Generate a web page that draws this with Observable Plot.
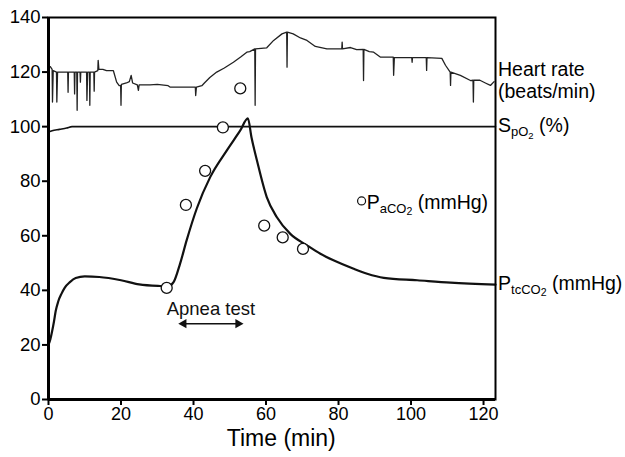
<!DOCTYPE html>
<html><head><meta charset="utf-8">
<script src="https://cdn.jsdelivr.net/npm/d3@7"></script>
<script src="https://cdn.jsdelivr.net/npm/@observablehq/plot@0.6"></script>
<style>body{margin:0;background:#fff;} svg{font-family:"Liberation Sans",Arial,sans-serif;}</style>
</head><body><div id="chart"></div>
<script>
// Tick labels
const xTicks = [0, 20, 40, 60, 80, 100, 120];
const yTicks = [0, 20, 40, 60, 80, 100, 120, 140];

// Heart rate trace (min, beats/min)
const hrTime = [0.5,1.0,1.1,1.3,2.2,2.3,2.5,5.3,5.4,5.5,7.1,7.2,7.3,7.8,7.9,8.0,8.7,8.8,8.9,10.5,10.6,10.8,11.3,11.4,11.5,12.5,12.6,12.7,13.6,13.7,13.9,15,16,17.9,18.8,19.5,19.9,20.0,20.1,21.5,22.3,22.8,23.2,24.5,24.8,25,28,30,33,33.5,36,40.5,40.6,40.8,42.3,43,44.5,46.4,48.5,51,53,54.7,55.5,56.9,57,57.1,60.2,62.1,64.4,65.7,65.8,65.9,67.5,69.5,71.3,73.6,76.8,80.9,81,81.1,83.3,85,86.8,86.9,87,88.5,89.7,91.5,95.1,95.2,95.4,100.2,100.3,100.4,104.2,104.3,104.4,108.5,109.5,110.8,110.9,111,113.6,116.4,117.1,117.2,117.3,119,120.5,121.9,122.9];
const hrBpm = [122,121,109,120.5,120,109,120,120,112.6,120,120,112,120,120,106,120,120,116.3,120,120,109.6,120,120,107.8,120,120,113,120,120.5,124.3,121,121,120.5,120.5,116.3,115,115,107.8,115.5,116,116.5,118.8,116,115.3,113.3,115.3,115.3,115.5,115,114.5,114.5,114.5,111.4,114.5,115,116,118,120,121.5,123.6,125.5,127.3,127.5,128.5,107.8,128.5,128.9,131.6,134,134.6,121.8,134.6,134,132.5,131.6,129.4,128.5,128.5,131,128.5,129,128.2,128.3,116.9,128.3,127.5,127.3,125.5,125.5,118.8,125.3,125.3,123.6,125.3,125.3,120.6,125.3,125,122.5,120,115.1,120,118.8,116.9,117,109,117,117,116,115.1,116.5];
const hrDotTime = [52.9];
const hrDotBpm = [114];

// SpO2 (%)
const spoTime = [0, 1, 3, 5, 6.5, 123.3];
const spoValue = [98, 98.5, 99, 99.5, 100, 100];

// PtcCO2 (mmHg)
const ptcTime = [0,0.5,1,1.5,2,2.7,3.6,4.5,5.9,7.5,10,14,20,25,30.8,33,34.5,36.3,38.1,40.9,44.6,49.2,52.9,55,56,57.5,60.2,63,66.7,71.3,75,78.6,84,87.9,92.5,101.7,110.9,123.3];
const ptcValue = [20,22,25,28.5,32.5,36,38.8,41,43,44.5,45.1,44.9,43.7,42.2,41.6,41.5,43,49.8,58.3,70,81.5,91.3,98.6,103,96,87.6,74.2,66.8,60.7,56.5,53.4,51,48,46.1,44.6,43.7,42.8,42.1];

// PaCO2 samples (mmHg)
const pacoTime = [32.6, 37.9, 43.2, 48.1, 59.5, 64.6, 70.2];
const pacoValue = [40.9, 71.3, 83.8, 99.7, 63.7, 59.4, 55.2];

// Apnea test annotation
const apneaLabel = "Apnea test";
const apneaStart = 35.8, apneaEnd = 53.8, apneaLevel = 27.8;

const hr = hrTime.map((t, i) => ({t, v: hrBpm[i]}));
const spo = spoTime.map((t, i) => ({t, v: spoValue[i]}));
const ptc = ptcTime.map((t, i) => ({t, v: ptcValue[i]}));
const paco = pacoTime.map((t, i) => ({t, v: pacoValue[i]}));
const hrDots = hrDotTime.map((t, i) => ({t, v: hrDotBpm[i]}));

const chart = Plot.plot({
  width: 625, height: 457,
  marginLeft: 48, marginRight: 130, marginTop: 17, marginBottom: 58,
  style: {fontFamily: "Liberation Sans, Arial, sans-serif", fontSize: "18px", color: "#000", background: "#fff"},
  x: {domain: [0, 123.3]},
  y: {domain: [0, 140]},
  marks: [
    Plot.axisX({ticks: xTicks, tickSize: 6, tickPadding: 2, label: null, fontSize: 18, strokeWidth: 2}),
    Plot.axisY({ticks: yTicks, tickSize: 6, tickPadding: 2, label: null, fontSize: 18.5, strokeWidth: 2}),
    Plot.line(hr, {x: "t", y: "v", stroke: "#222", strokeWidth: 1.3}),
    Plot.line(spo, {x: "t", y: "v", stroke: "#111", strokeWidth: 1.6, curve: "monotone-x"}),
    Plot.line(ptc, {x: "t", y: "v", stroke: "#111", strokeWidth: 2.2, curve: "monotone-x"}),
    Plot.dot(paco, {x: "t", y: "v", r: 5.5, stroke: "#111", strokeWidth: 1.3, fill: "white"}),
    Plot.dot(hrDots, {x: "t", y: "v", r: 5.5, stroke: "#111", strokeWidth: 1.3, fill: "white"}),
    Plot.frame({strokeWidth: 2, stroke: "#000"}),
    Plot.ruleX([0], {strokeWidth: 3, stroke: "#000"}),
    Plot.ruleY([0], {strokeWidth: 3, stroke: "#000"}),
    Plot.text([apneaLabel], {x: () => (apneaStart + apneaEnd) / 2, y: () => 30.8, text: d => d, fontSize: 18.5, lineAnchor: "bottom", fill: "#111"}),
    Plot.link([0], {x1: () => apneaStart + 1, x2: () => apneaEnd - 1, y1: () => apneaLevel, y2: () => apneaLevel, stroke: "#111", strokeWidth: 1.5}),
    Plot.dot([apneaStart + 1.5, apneaEnd - 1.5], {x: d => d, y: () => apneaLevel, symbol: "triangle", rotate: d => d < 45 ? -90 : 90, r: 3.5, fill: "#111", stroke: "none"}),
    Plot.text(["Time (min)"], {x: () => 64.2, frameAnchor: "bottom", dy: 46, text: d => d, fontSize: 23, fill: "#000"})
  ]
});
document.getElementById("chart").appendChild(chart);

const sx = chart.scale("x"), sy = chart.scale("y");
const svg = d3.select(chart);
function label(x, y, parts) {
  const t = svg.append("text").attr("x", x).attr("y", y).attr("fill", "#000")
    .attr("font-size", 19.5).attr("text-anchor", "start");
  let prev = 0;
  for (const [s, size, shift] of parts) {
    t.append("tspan").attr("font-size", size).attr("dy", shift - prev).text(s);
    prev = shift;
  }
}
const xr = sx.apply(123.3) + 3;
label(xr, sy.apply(118.4), [["Heart rate", 19.5, 0]]);
label(xr, sy.apply(110.2), [["(beats/min)", 19.5, 0]]);
label(xr, sy.apply(98.0), [["S", 19.5, 0], ["pO", 13, 4], ["2", 9.5, 7], [" (%)", 19.5, 0]]);
label(xr, sy.apply(40.0), [["P", 19.5, 0], ["tcCO", 13, 4], ["2", 10.5, 6], [" (mmHg)", 19.5, 0]]);
svg.append("circle").attr("cx", sx.apply(86.5)).attr("cy", sy.apply(72.6)).attr("r", 4).attr("fill", "white").attr("stroke", "#111").attr("stroke-width", 1.2);
label(sx.apply(87.9), sy.apply(69.6), [["P", 19.5, 0], ["aCO", 13, 4], ["2", 10.5, 6], [" (mmHg)", 19.5, 0]]);
</script>
</body></html>
